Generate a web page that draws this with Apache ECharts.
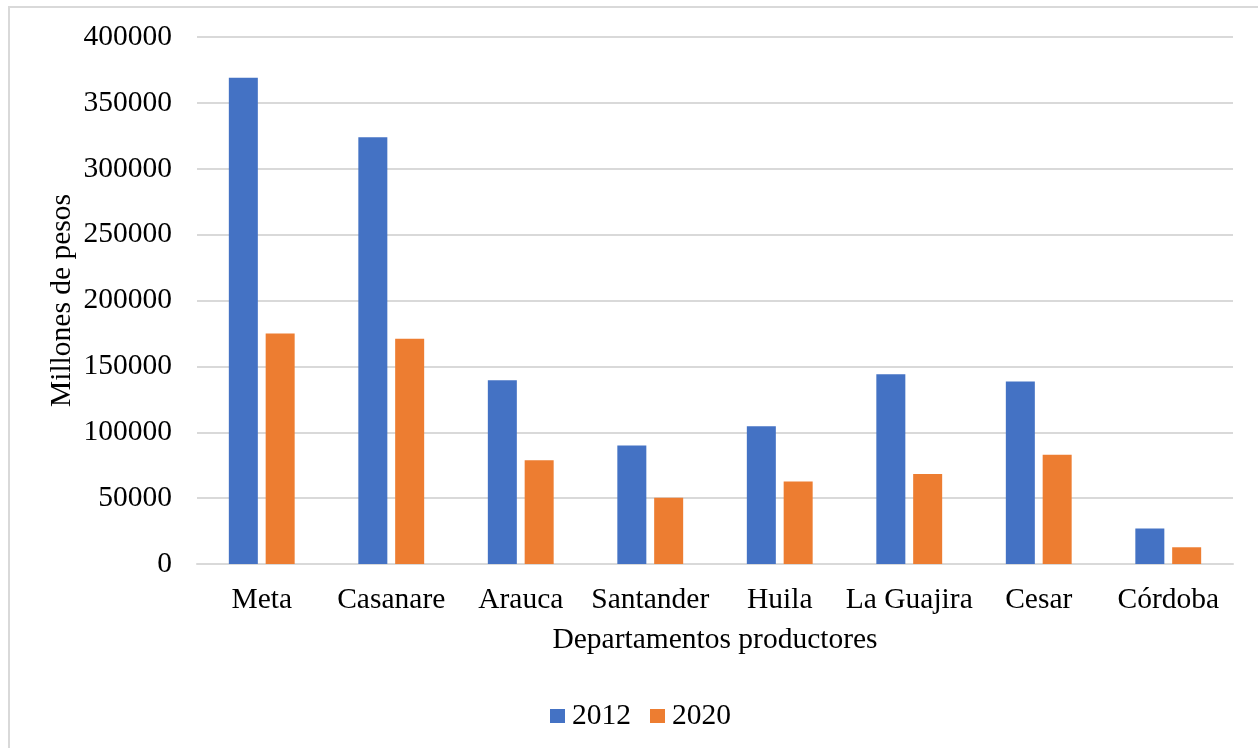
<!DOCTYPE html>
<html>
<head>
<meta charset="utf-8">
<script src="https://cdn.jsdelivr.net/npm/echarts@6/dist/echarts.min.js"></script>
<style>
html,body{margin:0;padding:0;background:#fff;}
#chart{width:1258px;height:748px;}
</style>
</head>
<body>
<div id="chart"></div>
<script>
const categories = ['Meta','Casanare','Arauca','Santander','Huila','La Guajira','Cesar','Córdoba'];
const values2012 = [369000, 324000, 139500, 90000, 104500, 144000, 138500, 27000];
const values2020 = [175000, 171000, 78700, 50200, 62700, 68300, 82900, 12700];
const seriesNames = ['2012','2020'];
const yTicks = [0, 50000, 100000, 150000, 200000, 250000, 300000, 350000, 400000];

const font = '"Liberation Serif", "Times New Roman", serif';
const fs = 29.5;
const chart = echarts.init(document.getElementById('chart'));
chart.setOption({
  animation: false,
  backgroundColor: '#ffffff',
  graphic: [{
    type: 'rect',
    shape: {x: 9, y: 7, width: 1300, height: 800},
    style: {fill: 'none', stroke: '#d9d9d9', lineWidth: 2},
    silent: true
  }],
  grid: {left: 197, right: 25, top: 37, bottom: 184, containLabel: false},
  legend: {
    data: seriesNames,
    top: 696,
    left: 545,
    itemWidth: 15,
    itemHeight: 14,
    itemGap: 19,
    icon: 'rect',
    textStyle: {fontFamily: font, fontSize: fs, color: '#000', padding: [0, 0, 0, 2]}
  },
  xAxis: {
    type: 'category',
    data: categories,
    name: 'Departamentos productores',
    nameLocation: 'middle',
    nameGap: 61,
    nameTextStyle: {fontFamily: font, fontSize: fs, color: '#000'},
    axisLine: {lineStyle: {color: '#d9d9d9', width: 2}},
    axisTick: {show: false},
    axisLabel: {fontFamily: font, fontSize: fs, color: '#000', margin: 21, interval: 0}
  },
  yAxis: {
    type: 'value',
    min: yTicks[0],
    max: yTicks[yTicks.length - 1],
    interval: 50000,
    name: 'Millones de pesos',
    nameLocation: 'middle',
    nameGap: 120,
    nameMoveOverlap: false,
    nameTextStyle: {fontFamily: font, fontSize: fs, color: '#000'},
    axisLine: {show: false},
    axisTick: {show: false},
    splitLine: {lineStyle: {color: '#d9d9d9', width: 2}},
    axisLabel: {fontFamily: font, fontSize: fs, color: '#000', margin: 25,
      formatter: function (v) { return String(v); }}
  },
  series: [
    {name: seriesNames[0], type: 'bar', data: values2012, barWidth: 29, barGap: '27%',
     itemStyle: {color: '#4472C4'}},
    {name: seriesNames[1], type: 'bar', data: values2020, barWidth: 29, barGap: '27%',
     itemStyle: {color: '#ED7D31'}}
  ]
});
</script>
</body>
</html>
